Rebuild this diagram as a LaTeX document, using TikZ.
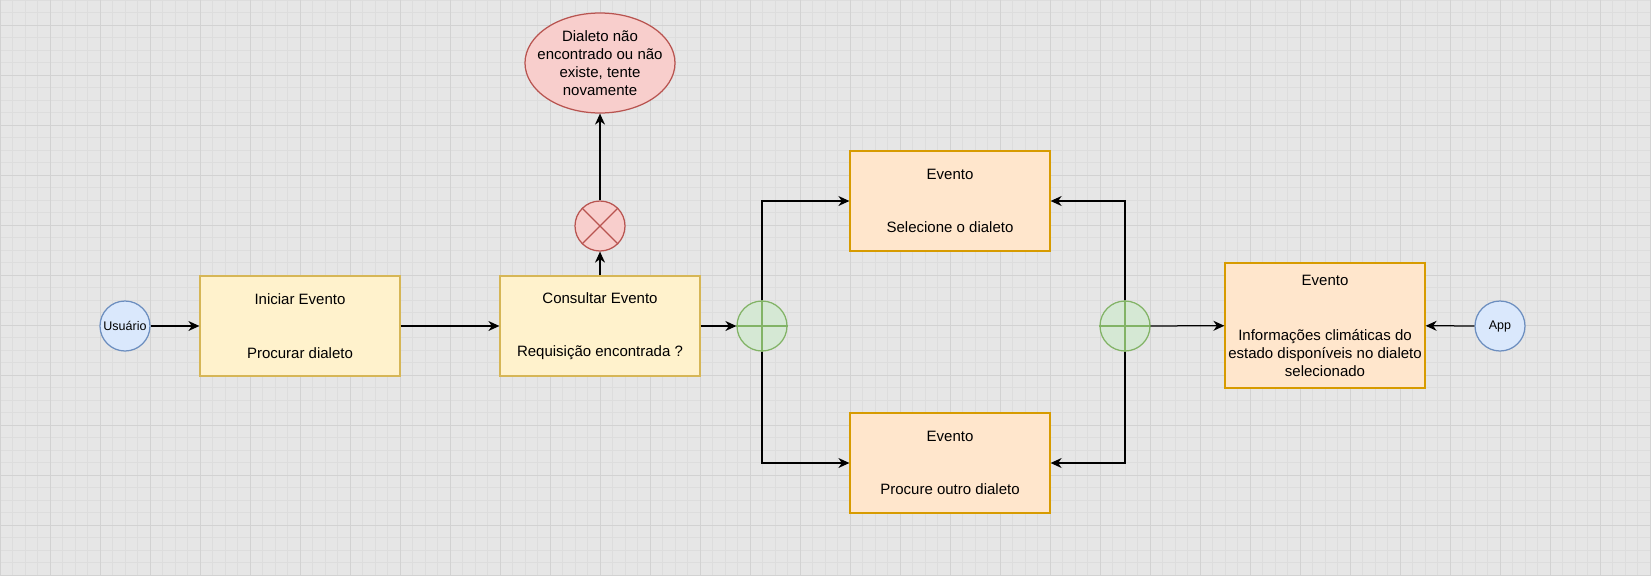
\documentclass[tikz,border=0pt]{standalone}
\usepackage{fontspec}
\setmainfont{Liberation Sans}
\usetikzlibrary{arrows.meta,shapes.geometric}
\definecolor{bgc}{HTML}{E6E6E6}
\definecolor{minorc}{HTML}{DDDDDD}
\definecolor{majorc}{HTML}{D2D2D2}
\definecolor{yfill}{HTML}{FFF2CC}
\definecolor{ydraw}{HTML}{D6B656}
\definecolor{ofill}{HTML}{FFE6CC}
\definecolor{odraw}{HTML}{D79B00}
\definecolor{bfill}{HTML}{DAE8FC}
\definecolor{bdraw}{HTML}{6C8EBF}
\definecolor{rfill}{HTML}{F8CECC}
\definecolor{rdraw}{HTML}{B85450}
\definecolor{gfill}{HTML}{D5E8D4}
\definecolor{gdraw}{HTML}{82B366}
\tikzset{
  mainfont/.style={font=\fontsize{15}{18}\selectfont},
  ybox/.style={rectangle, draw=ydraw, fill=yfill, line width=1.25pt, minimum width=200pt, minimum height=100pt, inner sep=0pt, align=center, mainfont},
  obox/.style={rectangle, draw=odraw, fill=ofill, line width=1.25pt, inner sep=0pt, align=center, mainfont},
  actor/.style={circle, draw=bdraw, fill=bfill, line width=1.25pt, inner sep=0pt, minimum size=50pt, font=\fontsize{12.5}{15}\selectfont},
  ggate/.style={circle, draw=gdraw, fill=gfill, line width=1.25pt, minimum size=50pt, inner sep=0pt},
  rgate/.style={circle, draw=rdraw, fill=rfill, line width=1.25pt, minimum size=50pt, inner sep=0pt},
  relli/.style={ellipse, draw=rdraw, fill=rfill, line width=1.25pt, minimum width=150pt, minimum height=100pt, inner xsep=-10pt, inner ysep=0pt, align=center, mainfont},
  arr/.style={draw=black, line width=1.25pt, -{Stealth[length=11pt, width=10pt, inset=3.5pt]}},
}
\begin{document}
\begin{tikzpicture}[x=1pt,y=-1pt]
\fill[bgc] (0,0) rectangle (1651,576);
\useasboundingbox (0,0) rectangle (1651,576);
\foreach \i in {0,...,132} \draw[minorc, line width=0.8pt] ({12.5*\i},0) -- ({12.5*\i},576);
\foreach \j in {0,...,46} \draw[minorc, line width=0.8pt] (0,{12.5*\j}) -- (1651,{12.5*\j});
\foreach \i in {0,...,33} \draw[majorc, line width=0.9pt] ({50*\i},0) -- ({50*\i},576);
\foreach \j in {0,...,11} \draw[majorc, line width=0.9pt] (0,{25+50*\j}) -- (1651,{25+50*\j});

% nodes
\node[actor] (user) at (125,326) {Usuário};
\node[ybox] (ini) at (300,326) {Iniciar Evento\\[35.7pt]Procurar dialeto};
\node[ybox] (cons) at (600,326) {Consultar Evento\\[35.7pt]Requisição encontrada ?};
\node[rgate] (xg) at (600,226) {};
\node[relli] (err) at (600,63) {Dialeto não\\encontrado ou não\\existe, tente\\novamente};
\node[ggate] (g1) at (762,326) {};
\node[ggate] (g2) at (1125,326) {};
\node[obox, minimum width=200pt, minimum height=100pt] (top) at (950,201) {Evento\\[35.7pt]Selecione o dialeto};
\node[obox, minimum width=200pt, minimum height=100pt] (bot) at (950,463) {Evento\\[35.7pt]Procure outro dialeto};
\node[obox, minimum width=200pt, minimum height=125pt] (info) at (1325,325.5) {Evento\\[37pt]Informações climáticas do\\estado disponíveis no dialeto\\selecionado};
\node[actor] (app) at (1500,326) {App};

% gateway marks
\draw[gdraw, line width=1.25pt] (g1.north) -- (g1.south) (g1.west) -- (g1.east);
\draw[gdraw, line width=1.25pt] (g2.north) -- (g2.south) (g2.west) -- (g2.east);
\draw[rdraw, line width=1.25pt] (xg.45) -- (xg.225) (xg.135) -- (xg.315);

% connectors
\draw[arr] (user) -- (ini);
\draw[arr] (ini) -- (cons);
\draw[arr] (cons) -- (xg);
\draw[arr] (xg) -- (err);
\draw[arr] (cons) -- (g1);
\draw[arr] (g1.north) |- (top.west);
\draw[arr] (g1.south) |- (bot.west);
\draw[arr] (g2.north) |- (top.east);
\draw[arr] (g2.south) |- (bot.east);
\draw[arr] (g2) -- (info);
\draw[arr] (app) -- (info);
\end{tikzpicture}
\end{document}
